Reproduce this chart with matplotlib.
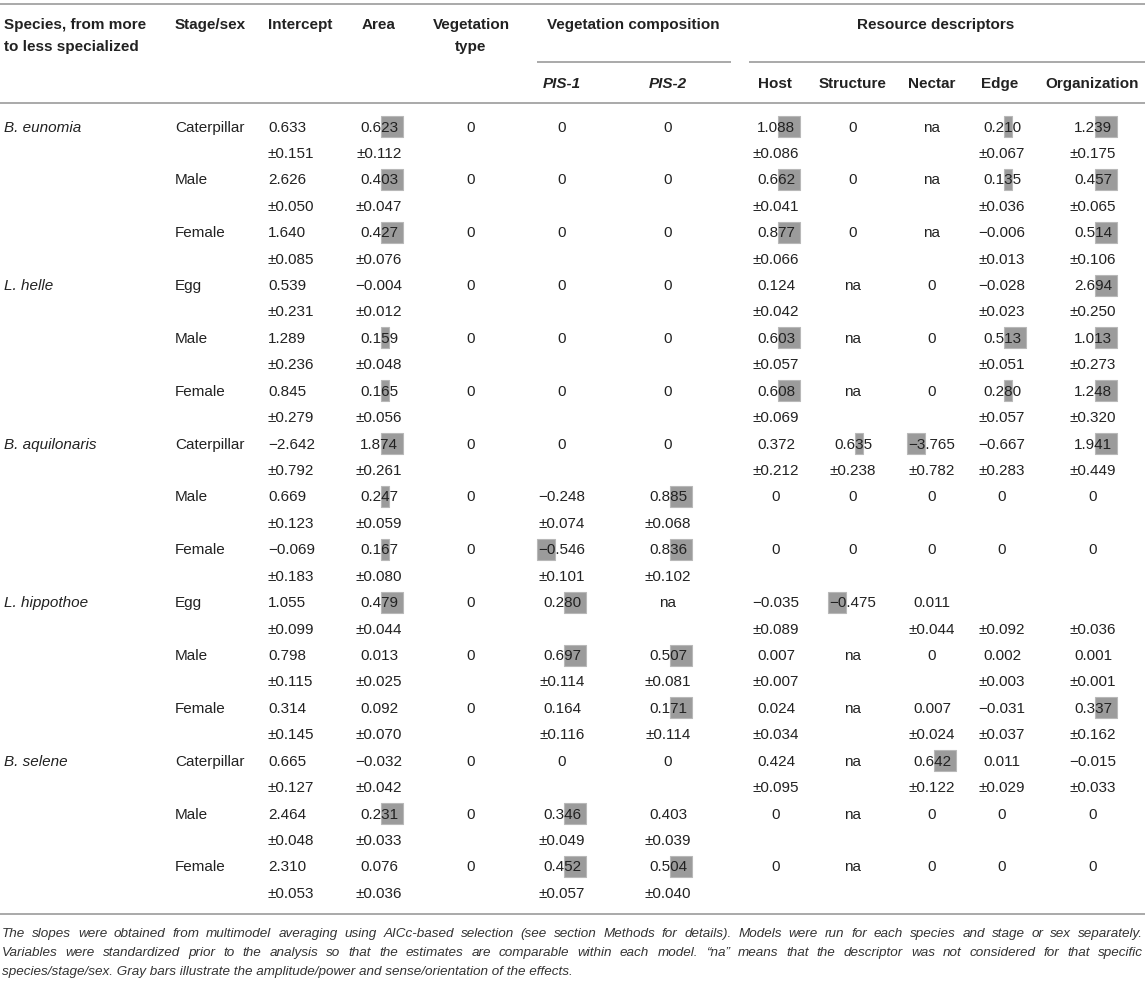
import matplotlib
matplotlib.use("Agg")
import matplotlib.pyplot as plt
from matplotlib.patches import Rectangle

plt.rcParams['font.family'] = ['Liberation Sans', 'DejaVu Sans']

species = ["B. eunomia", "L. helle", "B. aquilonaris", "L. hippothoe", "B. selene"]
stages = ["Caterpillar", "Male", "Female",
          "Egg", "Male", "Female",
          "Caterpillar", "Male", "Female",
          "Egg", "Male", "Female",
          "Caterpillar", "Male", "Female"]

# (estimate, standard error, gray bar: 0 none, 1 small, 2 large)
intercept = [("0.633", "±0.151", 0), ("2.626", "±0.050", 0), ("1.640", "±0.085", 0),
             ("0.539", "±0.231", 0), ("1.289", "±0.236", 0), ("0.845", "±0.279", 0),
             ("−2.642", "±0.792", 0), ("0.669", "±0.123", 0), ("−0.069", "±0.183", 0),
             ("1.055", "±0.099", 0), ("0.798", "±0.115", 0), ("0.314", "±0.145", 0),
             ("0.665", "±0.127", 0), ("2.464", "±0.048", 0), ("2.310", "±0.053", 0)]
area = [("0.623", "±0.112", 2), ("0.403", "±0.047", 2), ("0.427", "±0.076", 2),
        ("−0.004", "±0.012", 0), ("0.159", "±0.048", 1), ("0.165", "±0.056", 1),
        ("1.874", "±0.261", 2), ("0.247", "±0.059", 1), ("0.167", "±0.080", 1),
        ("0.479", "±0.044", 2), ("0.013", "±0.025", 0), ("0.092", "±0.070", 0),
        ("−0.032", "±0.042", 0), ("0.231", "±0.033", 2), ("0.076", "±0.036", 0)]
veg_type = [("0", "", 0)] * 15
pis1 = [("0", "", 0), ("0", "", 0), ("0", "", 0),
        ("0", "", 0), ("0", "", 0), ("0", "", 0),
        ("0", "", 0), ("−0.248", "±0.074", 0), ("−0.546", "±0.101", 2),
        ("0.280", "", 2), ("0.697", "±0.114", 2), ("0.164", "±0.116", 0),
        ("0", "", 0), ("0.346", "±0.049", 2), ("0.452", "±0.057", 2)]
pis2 = [("0", "", 0), ("0", "", 0), ("0", "", 0),
        ("0", "", 0), ("0", "", 0), ("0", "", 0),
        ("0", "", 0), ("0.885", "±0.068", 2), ("0.836", "±0.102", 2),
        ("na", "", 0), ("0.507", "±0.081", 2), ("0.171", "±0.114", 2),
        ("0", "", 0), ("0.403", "±0.039", 0), ("0.504", "±0.040", 2)]
host = [("1.088", "±0.086", 2), ("0.662", "±0.041", 2), ("0.877", "±0.066", 2),
        ("0.124", "±0.042", 0), ("0.603", "±0.057", 2), ("0.608", "±0.069", 2),
        ("0.372", "±0.212", 0), ("0", "", 0), ("0", "", 0),
        ("−0.035", "±0.089", 0), ("0.007", "±0.007", 0), ("0.024", "±0.034", 0),
        ("0.424", "±0.095", 0), ("0", "", 0), ("0", "", 0)]
structure = [("0", "", 0), ("0", "", 0), ("0", "", 0),
             ("na", "", 0), ("na", "", 0), ("na", "", 0),
             ("0.635", "±0.238", 1), ("0", "", 0), ("0", "", 0),
             ("−0.475", "", 2), ("na", "", 0), ("na", "", 0),
             ("na", "", 0), ("na", "", 0), ("na", "", 0)]
nectar = [("na", "", 0), ("na", "", 0), ("na", "", 0),
          ("0", "", 0), ("0", "", 0), ("0", "", 0),
          ("−3.765", "±0.782", 2), ("0", "", 0), ("0", "", 0),
          ("0.011", "±0.044", 0), ("0", "", 0), ("0.007", "±0.024", 0),
          ("0.642", "±0.122", 2), ("0", "", 0), ("0", "", 0)]
edge = [("0.210", "±0.067", 1), ("0.135", "±0.036", 1), ("−0.006", "±0.013", 0),
        ("−0.028", "±0.023", 0), ("0.513", "±0.051", 2), ("0.280", "±0.057", 1),
        ("−0.667", "±0.283", 0), ("0", "", 0), ("0", "", 0),
        ("", "±0.092", 0), ("0.002", "±0.003", 0), ("−0.031", "±0.037", 0),
        ("0.011", "±0.029", 0), ("0", "", 0), ("0", "", 0)]
organization = [("1.239", "±0.175", 2), ("0.457", "±0.065", 2), ("0.514", "±0.106", 2),
                ("2.694", "±0.250", 2), ("1.013", "±0.273", 2), ("1.248", "±0.320", 2),
                ("1.941", "±0.449", 2), ("0", "", 0), ("0", "", 0),
                ("", "±0.036", 0), ("0.001", "±0.001", 0), ("0.337", "±0.162", 2),
                ("−0.015", "±0.033", 0), ("0", "", 0), ("0", "", 0)]

footnote = [
    "The slopes were obtained from multimodel averaging using AICc-based selection "
    "(see section Methods for details). Models were run for each species and stage or sex separately.",
    "Variables were standardized prior to the analysis so that the estimates are comparable "
    "within each model. “na” means that the descriptor was not considered for that specific",
    "species/stage/sex. Gray bars illustrate the amplitude/power and sense/orientation of the effects.",
]

W, H = 1145, 982
TXT = '#222222'
LINE = '#a9a9a9'
BAR = '#9b9b9b'
FS = 11
FN_FS = 9.7

fig = plt.figure(figsize=(W / 100, H / 100), dpi=100)
ax = fig.add_axes([0, 0, 1, 1])
ax.set_xlim(0, W)
ax.set_ylim(H, 0)
ax.axis('off')


def put(x, y, s, ha='left', **kw):
    # y is the visual middle of the line, shift to baseline
    ax.text(x, y + 5.5, s, ha=ha, va='baseline', fontsize=kw.pop('fontsize', FS),
            color=TXT, **kw)


def hline(y, x0=0, x1=W):
    ax.plot([x0, x1], [y, y], color=LINE, lw=1.4, solid_capstyle='butt')


# rules
hline(4)
hline(62, 537, 731)
hline(62, 749, W)
hline(103)
hline(914)

# headers
put(4, 23, "Species, from more", weight='bold')
put(4, 45, "to less specialized", weight='bold')
put(175, 23, "Stage/sex", weight='bold')
put(268, 23, "Intercept", weight='bold')
put(379, 23, "Area", ha='center', weight='bold')
put(471, 23, "Vegetation", ha='center', weight='bold')
put(471, 45, "type", ha='center', weight='bold')
put(633, 23, "Vegetation composition", ha='center', weight='bold')
put(936, 23, "Resource descriptors", ha='center', weight='bold')
for s, x in [("PIS-1", 562), ("PIS-2", 668)]:
    put(x, 82, s, ha='center', weight='bold', style='italic')
for s, x in [("Host", 775), ("Structure", 853), ("Nectar", 932),
             ("Edge", 1000), ("Organization", 1092)]:
    put(x, 82, s, ha='center', weight='bold')

# body
y0, step, se_gap = 126, 52.85, 26.4
for i, sp in enumerate(species):
    put(4, y0 + 3 * i * step, sp, style='italic')

for i, st in enumerate(stages):
    y = y0 + i * step
    put(175, y, st)
    est, se, _ = intercept[i]
    put(268, y, est)
    put(268, y + se_gap, se)

columns = [(area, 379), (veg_type, 471), (pis1, 562), (pis2, 668), (host, 776),
           (structure, 853), (nectar, 932), (edge, 1002), (organization, 1093)]
for col, cx in columns:
    for i, (est, se, bar) in enumerate(col):
        y = y0 + i * step
        if bar:
            if est.startswith('−'):
                w = 18 if bar == 2 else 8
                x0 = cx - 7 - w
            else:
                w = 22 if bar == 2 else 8
                x0 = cx + 2
            ax.add_patch(Rectangle((x0, y - 10), w, 21, facecolor=BAR,
                                   edgecolor='#b8b8b8', lw=0.8, zorder=1))
        put(cx, y, est, ha='center', zorder=2)
        put(cx, y + se_gap, se, ha='center', zorder=2)

# footnote, first two lines justified
renderer = fig.canvas.get_renderer()
fn_y = [933, 952, 971]
fx0, fx1 = 2, 1143
fn_kw = dict(fontsize=FN_FS, style='italic', color='#333333', va='baseline')
for k, line in enumerate(footnote):
    if k == len(footnote) - 1:
        ax.text(fx0, fn_y[k] + 4, line, **fn_kw)
        continue
    words = line.split(' ')
    arts = [ax.text(0, fn_y[k] + 4, w, **fn_kw) for w in words]
    widths = [a.get_window_extent(renderer).width for a in arts]
    gap = (fx1 - fx0 - sum(widths)) / (len(words) - 1)
    x = fx0
    for a, w in zip(arts, widths):
        a.set_x(x)
        x += w + gap

fig.savefig("out.png", dpi=100)
